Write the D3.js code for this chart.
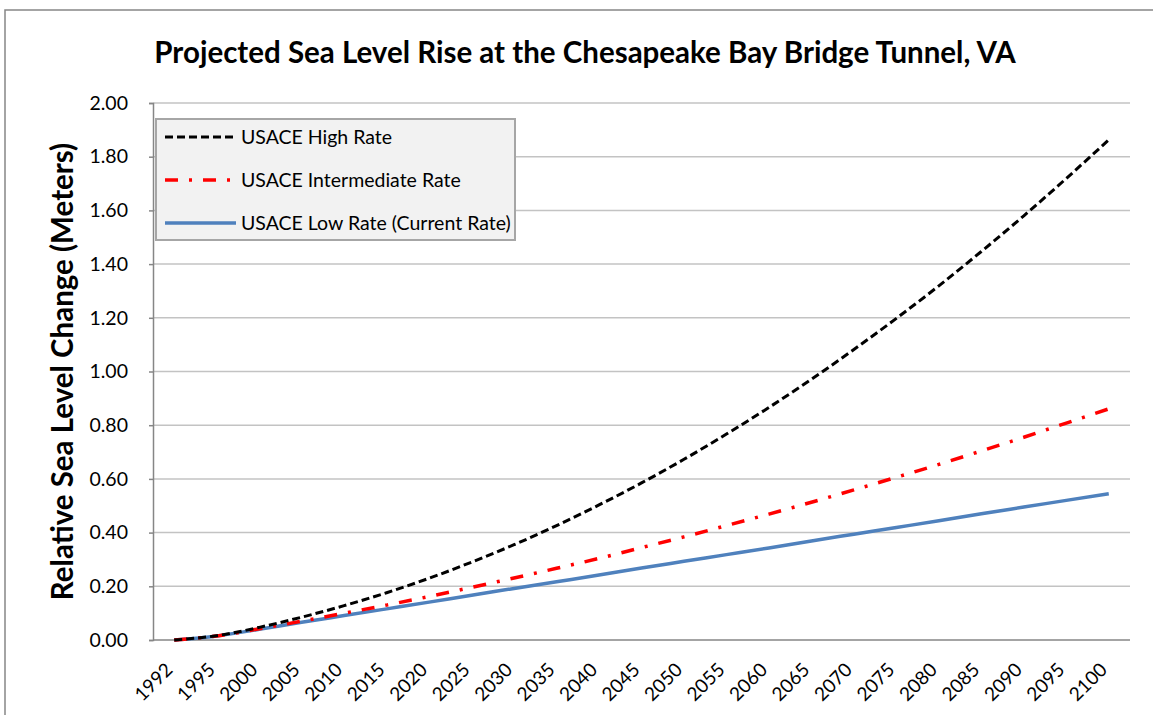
<!DOCTYPE html>
<html>
<head>
<meta charset="utf-8">
<script src="https://cdn.jsdelivr.net/npm/d3@7"></script>
<style>
  body { margin: 0; background: #fff; }
  text { font-family: Lato, "Open Sans", sans-serif; fill: #000; }
</style>
</head>
<body>
<script>
// chart data (meters of rise since 1992)
var years = ["1992", "1995", "2000", "2005", "2010", "2015", "2020", "2025", "2030", "2035", "2040",
    "2045", "2050", "2055", "2060", "2065", "2070", "2075", "2080", "2085", "2090", "2095", "2100"];

var highRate = [0, 0.016, 0.047, 0.085, 0.128, 0.176, 0.230, 0.290, 0.355, 0.426, 0.503,
    0.585, 0.673, 0.767, 0.866, 0.971, 1.082, 1.198, 1.319, 1.447, 1.580, 1.719, 1.863];

var intermediateRate = [0, 0.015, 0.042, 0.070, 0.100, 0.130, 0.162, 0.196, 0.231, 0.267, 0.304,
    0.344, 0.384, 0.426, 0.469, 0.513, 0.559, 0.606, 0.654, 0.704, 0.755, 0.808, 0.861];

var lowRate = [0, 0.015, 0.040, 0.066, 0.091, 0.116, 0.141, 0.167, 0.192, 0.217, 0.242,
    0.268, 0.293, 0.318, 0.343, 0.369, 0.394, 0.419, 0.444, 0.470, 0.495, 0.520, 0.545];

var yTicks = [0, 0.2, 0.4, 0.6, 0.8, 1.0, 1.2, 1.4, 1.6, 1.8, 2.0];

var seriesNames = ["USACE High Rate", "USACE Intermediate Rate", "USACE Low Rate (Current Rate)"];

var W = 1153, H = 715;
var plot = { left: 153, right: 1130, top: 103, bottom: 640 };

var svg = d3.select("body").append("svg")
    .attr("width", W)
    .attr("height", H);

// outer chart border (only left and top are inside the picture)
svg.append("rect")
    .attr("x", 5).attr("y", 10)
    .attr("width", 1170).attr("height", 730)
    .attr("fill", "#fff")
    .attr("stroke", "#868686")
    .attr("stroke-width", 1.5);

var x = d3.scalePoint()
    .domain(years)
    .range([plot.left, plot.right])
    .padding(0.5);

var y = d3.scaleLinear()
    .domain([0, 2])
    .range([plot.bottom, plot.top]);

// gridlines
svg.append("g")
    .selectAll("line")
    .data(yTicks.slice(1))
    .enter().append("line")
    .attr("x1", plot.left).attr("x2", plot.right)
    .attr("y1", function(d) { return y(d); })
    .attr("y2", function(d) { return y(d); })
    .attr("stroke", "#c3c3c3")
    .attr("stroke-width", 1.5);

// y axis
var yAxis = svg.append("g")
    .attr("transform", "translate(" + plot.left + ",0)")
    .call(d3.axisLeft(y).tickValues(yTicks).tickSize(4).tickPadding(21)
        .tickFormat(d3.format(".2f")));
yAxis.select(".domain").attr("stroke", "#868686").attr("stroke-width", 1.5);
yAxis.selectAll(".tick line").attr("stroke", "#868686").attr("stroke-width", 1.5);
yAxis.selectAll("text")
    .style("font-size", "19.5px")
    .style("font-family", "Lato, sans-serif")
    .attr("fill", "#000");

// x axis
var xAxis = svg.append("g")
    .attr("transform", "translate(0," + plot.bottom + ")")
    .call(d3.axisBottom(x).tickSize(0).tickSizeOuter(0));
xAxis.select(".domain")
    .attr("d", "M" + plot.left + ",0H" + plot.right)
    .attr("stroke", "#868686").attr("stroke-width", 1.5);
xAxis.selectAll("text")
    .style("font-size", "19px")
    .style("font-family", "Lato, sans-serif")
    .attr("fill", "#000")
    .attr("text-anchor", "end")
    .attr("dy", "0")
    .attr("y", 0)
    .attr("transform", "translate(-1,31) rotate(-45)");

// series lines
var line = d3.line()
    .x(function(d, i) { return x(years[i]); })
    .y(function(d) { return y(d); })
    .curve(d3.curveMonotoneX);

var styles = [
    { data: highRate, color: "#000000", width: 3, dash: "8,4" },
    { data: intermediateRate, color: "#ff0000", width: 3.5, dash: "13,11,3,11" },
    { data: lowRate, color: "#4f81bd", width: 3.5, dash: null }
];

// draw low first so the dashed series sit on top
styles.slice().reverse().forEach(function(s) {
    svg.append("path")
        .datum(s.data)
        .attr("d", line)
        .attr("fill", "none")
        .attr("stroke", s.color)
        .attr("stroke-width", s.width)
        .attr("stroke-dasharray", s.dash);
});

// legend
var legend = svg.append("g").attr("transform", "translate(156,119)");
legend.append("rect")
    .attr("width", 359).attr("height", 121)
    .attr("fill", "#f2f2f2")
    .attr("stroke", "#a6a6a6")
    .attr("stroke-width", 2);

var items = legend.selectAll(".legend")
    .data(seriesNames)
    .enter().append("g")
    .attr("class", "legend")
    .attr("transform", function(d, i) { return "translate(0," + (18 + i * 43) + ")"; });

items.append("line")
    .attr("x1", 9).attr("x2", 80)
    .attr("stroke", function(d, i) { return styles[i].color; })
    .attr("stroke-width", function(d, i) { return styles[i].width; })
    .attr("stroke-dasharray", function(d, i) { return styles[i].dash; });

items.append("text")
    .attr("x", 85)
    .attr("dy", "0.35em")
    .style("font-size", "19.5px")
    .text(function(d) { return d; });

// title
svg.append("text")
    .attr("x", 585).attr("y", 63)
    .attr("text-anchor", "middle")
    .style("font-size", "29.5px")
    .style("font-weight", "bold")
    .text("Projected Sea Level Rise at the Chesapeake Bay Bridge Tunnel, VA");

// y axis title
svg.append("text")
    .attr("transform", "translate(73," + ((plot.top + plot.bottom) / 2) + ") rotate(-90)")
    .attr("text-anchor", "middle")
    .style("font-size", "29.5px")
    .style("font-weight", "bold")
    .text("Relative Sea Level Change (Meters)");
</script>
</body>
</html>
